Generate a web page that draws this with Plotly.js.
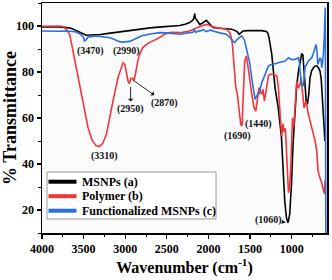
<!DOCTYPE html>
<html>
<head>
<meta charset="utf-8">
<script src="https://cdn.plot.ly/plotly-3.0.1.min.js"></script>
<style>html,body{margin:0;padding:0;background:#fff;}#chart{width:332px;height:280px;}</style>
</head>
<body>
<div id="chart"></div>
<script>
// ---- Data ----
var seriesNames = ["MSNPs (a)", "Polymer (b)", "Functionalized MSNPs (c)"];
var seriesColors = ["#000000", "#f2353a", "#2a6fe0"];

var msnpsX = [4000,3900,3800,3700,3650,3600,3550,3500,3470,3400,3300,3200,3100,3000,2900,2800,2700,2600,2500,2400,2345,2280,2225,2195,2180,2170,2165,2158,2145,2125,2104,2075,2044,2030,2024,2010,1985,1945,1900,1850,1784,1720,1684,1650,1632,1610,1584,1520,1423,1360,1303,1285,1272,1255,1239,1199,1163,1123,1103,1083,1063,1043,1023,1002,983,963,939,918,899,879,865,855,839,825,810,795,779,760,738,718,698,680,659,645,638,628,618,608,600];
var msnpsY = [99.6,99.7,99.6,99.3,99.0,98.2,97.2,96.5,96.0,96.1,96.3,96.8,97.3,97.9,98.5,98.9,99.2,99.5,99.8,100.0,100.2,100.8,101.5,102.3,103.0,104.2,105.4,103.5,102.9,101.6,100.7,101.2,101.9,102.6,102.5,101.8,101.0,99.3,99.1,99.0,99.0,98.6,98.1,97.4,96.4,96.9,97.8,98.0,98.1,98.0,97.6,96.8,94.9,91.5,87.8,73.0,65.0,52.0,38.4,24.0,16.7,14.5,18.2,31.2,48.6,63.0,74.0,80.4,85.0,88.0,87.5,83.0,73.0,67.5,66.0,70.0,77.5,80.5,81.9,82.6,82.6,82.0,80.4,77.0,73.0,66.0,60.0,54.0,50.0];

var polymerX = [4000,3900,3800,3750,3707,3667,3627,3567,3507,3447,3400,3350,3310,3270,3226,3180,3147,3087,3050,3026,3005,2985,2966,2950,2935,2918,2905,2894,2880,2865,2845,2826,2790,2745,2700,2625,2525,2450,2345,2225,2145,2100,2060,2024,2000,1960,1904,1850,1784,1744,1725,1712,1696,1672,1652,1632,1612,1596,1584,1564,1543,1519,1500,1479,1452,1431,1411,1392,1375,1359,1345,1327,1310,1299,1279,1260,1219,1179,1159,1139,1119,1105,1090,1075,1060,1050,1038,1025,1010,1000,990,975,960,939,920,899,887,870,851,827,799,758,718,698,683,660,640,620,605,598];
var polymerY = [99.9,100.1,100.0,99.8,98.5,96.4,89.1,79.0,67.4,55.8,50.5,48.0,47.6,49.0,52.9,60.5,67.4,77.5,81.5,84.0,83.3,79.5,76.1,74.9,77.0,77.3,76.5,76.4,78.5,81.9,85.5,87.7,90.5,92.0,93.0,94.2,96.4,97.3,97.1,97.8,99.3,99.8,100.3,100.7,100.5,99.8,99.3,99.0,98.6,97.1,95.0,92.0,84.8,73.5,70.3,63.5,57.3,56.5,67.4,84.8,87.0,81.9,76.0,70.3,64.5,63.0,67.4,73.2,71.5,70.3,72.5,67.4,71.0,73.2,78.3,79.0,79.0,78.3,73.2,61.6,52.0,57.5,54.0,55.5,46.0,35.0,27.5,30.0,38.4,50.0,60.0,56.0,66.0,76.0,73.0,74.6,77.5,72.0,64.5,67.4,61.6,55.8,50.0,45.7,37.0,34.0,32.0,29.0,27.0,33.0];

var funcX = [4000,3900,3800,3700,3600,3540,3500,3490,3470,3440,3400,3350,3300,3250,3200,3150,3100,3070,3030,2990,2950,2900,2850,2800,2700,2585,2500,2420,2345,2280,2230,2185,2170,2150,2120,2104,2060,2030,2000,1975,1945,1900,1850,1784,1740,1710,1684,1664,1644,1620,1604,1584,1564,1544,1524,1504,1480,1460,1440,1420,1400,1392,1371,1359,1340,1319,1299,1279,1260,1239,1200,1159,1120,1079,1038,1000,959,940,918,905,899,879,859,839,820,799,780,758,740,718,706,695,686,670,658,645,638,625,618,608,600,596,593,591,589];
var funcY = [97.8,97.6,97.7,97.8,97.5,96.5,95.0,93.5,94.0,95.5,95.3,95.7,95.5,95.3,95.0,94.5,93.8,93.2,93.0,93.2,93.3,94.0,95.0,95.8,96.5,97.1,97.0,96.7,96.4,96.8,97.1,97.3,98.3,97.2,97.9,97.8,98.4,97.6,97.9,98.2,97.8,97.3,96.9,96.4,95.0,93.5,92.8,93.8,94.3,95.2,95.7,95.0,93.5,90.5,87.7,84.0,77.5,72.0,68.1,69.5,70.8,70.4,74.6,75.4,77.0,79.0,81.5,82.6,83.0,83.3,83.6,84.0,84.3,84.8,86.2,85.4,85.5,85.8,86.2,84.0,80.4,74.6,73.9,81.9,83.5,84.8,85.5,86.2,88.0,90.6,92.0,89.0,83.3,84.8,86.2,85.0,81.9,85.5,87.8,95.0,103.0,108.0,80.0,40.0,5.0];

// Peak labels: text position, and (optionally) the point an arrow links to
var peakLabels = ["(3470)","(2990)","(2950)","(2870)","(3310)","(1690)","(1440)","(1060)"];
var peakLabelX = [3418, 2985, 2935, 2525, 3245, 1648, 1395, 1275];
var peakLabelY = [89.1, 89.1, 63.9, 66.7, 43.5, 52.2, 57.4, 15.7];
var arrowPointX = [null, null, 2935, 2906, null, null, null, 1071];
var arrowPointY = [null, null, 73.5, 76.5, null, null, null, 14.6];
var arrowAtText = [false, false, true, true, false, false, false, false];

var xTickVals = [4000,3500,3000,2500,2000,1500,1000];
var yTickVals = [20,40,60,80,100];

// ---- Chart ----
var W = 332, H = 280;
var M = {l: 42, r: 5, t: 3, b: 47};
var pw = W - M.l - M.r, ph = H - M.t - M.b;
function pxX(px){ return (px - M.l) / pw; }
function pxY(py){ return (M.t + ph - py) / ph; }

var serif = "Liberation Serif, Times New Roman, serif";

var xs = [msnpsX, polymerX, funcX];
var ys = [msnpsY, polymerY, funcY];
var traces = [];
for (var i = 0; i < 3; i++) {
  traces.push({
    x: xs[i], y: ys[i], type: 'scatter', mode: 'lines',
    name: seriesNames[i], showlegend: false,
    line: {color: seriesColors[i], width: 1.6}
  });
}

var annotations = [];
var labelFont = {family: serif, size: 10, color: '#111', weight: 'bold'};
for (var k = 0; k < peakLabels.length; k++) {
  if (arrowPointX[k] === null) {
    annotations.push({
      x: peakLabelX[k], y: peakLabelY[k], xref: 'x', yref: 'y',
      text: peakLabels[k], showarrow: false, font: labelFont
    });
  } else {
    annotations.push({
      x: arrowPointX[k], y: arrowPointY[k], xref: 'x', yref: 'y',
      ax: peakLabelX[k], ay: peakLabelY[k], axref: 'x', ayref: 'y',
      text: peakLabels[k], font: labelFont,
      showarrow: true, arrowhead: 2, arrowsize: 0.9, arrowwidth: 0.9,
      arrowcolor: '#111', arrowside: arrowAtText[k] ? 'start' : 'end',
      standoff: 0, startstandoff: 0
    });
  }
}

// Compact legend box, as in the reference
var shapes = [{
  type: 'rect', xref: 'paper', yref: 'paper',
  x0: pxX(47), x1: pxX(216), y0: pxY(219), y1: pxY(172),
  line: {color: '#9a9a9a', width: 1}, fillcolor: '#ffffff', layer: 'above'
}];
var legendRows = [181.7, 196.2, 210.7];
for (var j = 0; j < 3; j++) {
  shapes.push({
    type: 'line', xref: 'paper', yref: 'paper',
    x0: pxX(48.5), x1: pxX(76.5), y0: pxY(legendRows[j]), y1: pxY(legendRows[j]),
    line: {color: seriesColors[j], width: 4}, layer: 'above'
  });
  annotations.push({
    xref: 'paper', yref: 'paper', x: pxX(79.5), y: pxY(legendRows[j]),
    xanchor: 'left', yanchor: 'middle', showarrow: false,
    text: seriesNames[j],
    font: {family: serif, size: 12, color: '#000', weight: 'bold'}
  });
}

var layout = {
  width: W, height: H,
  margin: M,
  paper_bgcolor: '#ffffff',
  plot_bgcolor: '#fbfbfb',
  showlegend: false,
  font: {family: serif, color: '#000'},
  xaxis: {
    range: [4000, 575], autorange: false,
    tickvals: xTickVals, ticktext: xTickVals.map(String),
    ticks: 'outside', ticklen: 4, tickwidth: 1.3, tickcolor: '#000',
    minor: {dtick: 250, tick0: 0, ticks: 'outside', ticklen: 2.5, tickwidth: 1, tickcolor: '#000'},
    showline: true, linecolor: '#000', linewidth: 1.5, mirror: true,
    showgrid: false, zeroline: false,
    tickfont: {family: serif, size: 12, color: '#000', weight: 'bold'},
    title: {text: 'Wavenumber (cm<sup>-1</sup>)', font: {family: serif, size: 16, color: '#000', weight: 'bold'}, standoff: 5}
  },
  yaxis: {
    range: [10, 110], autorange: false,
    tickvals: yTickVals, ticktext: yTickVals.map(String),
    ticks: 'outside', ticklen: 4, tickwidth: 1.3, tickcolor: '#000',
    minor: {dtick: 10, tick0: 0, ticks: 'outside', ticklen: 2.5, tickwidth: 1, tickcolor: '#000'},
    showline: true, linecolor: '#000', linewidth: 1.5, mirror: true,
    showgrid: false, zeroline: false,
    tickfont: {family: serif, size: 12, color: '#000', weight: 'bold'},
    title: {text: '% Transmittance', font: {family: serif, size: 18, color: '#000', weight: 'bold'}, standoff: 4}
  },
  annotations: annotations,
  shapes: shapes
};

Plotly.newPlot('chart', traces, layout, {staticPlot: true, displayModeBar: false});
</script>
</body>
</html>
